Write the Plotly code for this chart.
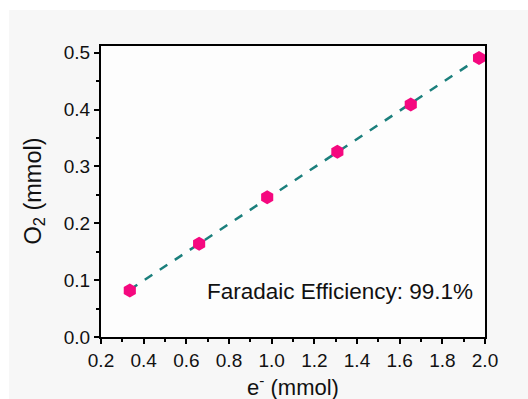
import numpy as np
import plotly.graph_objects as go

# Charge passed (mmol e-) and O2 evolved (mmol)
electrons = [0.335, 0.66, 0.979, 1.308, 1.652, 1.972]
oxygen = [0.082, 0.164, 0.246, 0.326, 0.409, 0.491]
efficiency_label = "Faradaic Efficiency: 99.1%"
x_title = "e<sup>-</sup> (mmol)"
y_title = "O<sub>2</sub> (mmol)"

x_ticks = [0.2, 0.4, 0.6, 0.8, 1.0, 1.2, 1.4, 1.6, 1.8, 2.0]
y_ticks = [0.0, 0.1, 0.2, 0.3, 0.4, 0.5]

# Linear fit through the measured points
slope, intercept = np.polyfit(electrons, oxygen, 1)
fit_x = np.array([electrons[0], electrons[-1]])
fit_y = slope * fit_x + intercept

font_family = "Liberation Sans, Arial, sans-serif"
plot_w, plot_h = 384, 291

fig = go.Figure()
fig.add_trace(go.Scatter(
    x=fit_x, y=fit_y, mode="lines",
    line=dict(color="#1b7f7c", width=2.5, dash="dash"),
    showlegend=False, hoverinfo="skip",
))
fig.add_trace(go.Scatter(
    x=electrons, y=oxygen, mode="markers",
    marker=dict(symbol="hexagon", size=14, color="#f5087f",
                line=dict(width=0)),
    showlegend=False,
))

fig.add_annotation(
    x=0.975, y=0.158, xref="paper", yref="paper",
    xanchor="right", yanchor="middle",
    text=efficiency_label, showarrow=False,
    font=dict(family=font_family, size=22.5, color="#111111"),
)
# Axis titles placed as paper-anchored labels
fig.add_annotation(
    x=0.5, y=-49 / plot_h, xref="paper", yref="paper",
    xanchor="center", yanchor="middle",
    text=x_title, showarrow=False,
    font=dict(family=font_family, size=22, color="#111111"),
)
fig.add_annotation(
    x=-67 / plot_w, y=0.5, xref="paper", yref="paper",
    xanchor="center", yanchor="middle", textangle=-90,
    text=y_title, showarrow=False,
    font=dict(family=font_family, size=23.5, color="#111111"),
)

axis_common = dict(
    showgrid=False, zeroline=False,
    showline=True, linecolor="black", linewidth=2, mirror=True,
    ticks="outside", ticklen=5, tickwidth=1.5, tickcolor="black",
    tickfont=dict(family=font_family, size=19, color="#111111"),
)

fig.update_xaxes(
    range=[0.2, 2.0], tickvals=x_ticks,
    ticktext=[f"{v:.1f}" for v in x_ticks],
    minor=dict(ticks="outside", ticklen=3, tickwidth=1.5, tickcolor="black", dtick=0.1, tick0=0.2),
    **axis_common,
)
fig.update_yaxes(
    range=[0, 0.512], tickvals=y_ticks,
    ticktext=[f"{v:.1f}" for v in y_ticks],
    minor=dict(ticks="outside", ticklen=3, tickwidth=1.5, tickcolor="black", dtick=0.05, tick0=0),
    **axis_common,
)

fig.update_layout(
    width=528, height=399,
    margin=dict(l=101, r=43, t=46, b=62, autoexpand=False),
    paper_bgcolor="#f7f7f7",
    plot_bgcolor="#fdfdfd",
    shapes=[
        dict(type="rect", xref="paper", yref="paper", layer="below",
             x0=-101 / plot_w, x1=-92 / plot_w, y0=-0.3, y1=1.2,
             fillcolor="#ffffff", line=dict(width=0)),
        dict(type="rect", xref="paper", yref="paper", layer="below",
             x0=-0.3, x1=1.2, y0=1 + 36 / plot_h, y1=1.3,
             fillcolor="#ffffff", line=dict(width=0)),
    ],
)

fig.write_html("out.html")
